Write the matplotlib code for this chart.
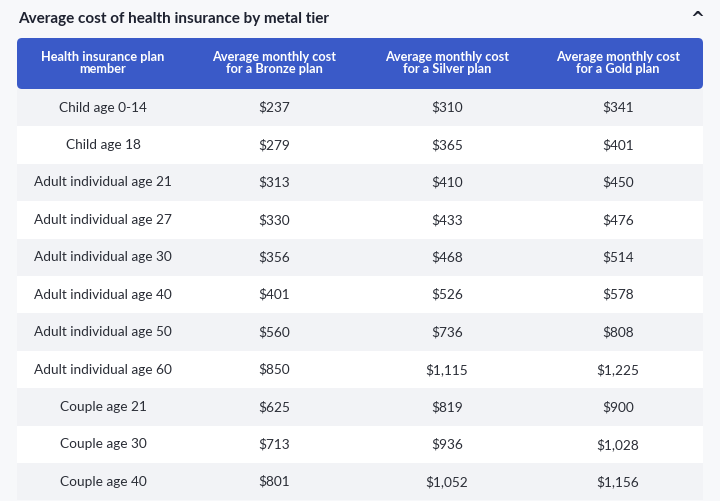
import matplotlib.pyplot as plt
from matplotlib.patches import Rectangle, FancyBboxPatch

title = "Average cost of health insurance by metal tier"
headers = ["Health insurance plan\nmember", "Average monthly cost\nfor a Bronze plan",
           "Average monthly cost\nfor a Silver plan", "Average monthly cost\nfor a Gold plan"]
members = ["Child age 0-14", "Child age 18", "Adult individual age 21", "Adult individual age 27",
           "Adult individual age 30", "Adult individual age 40", "Adult individual age 50",
           "Adult individual age 60", "Couple age 21", "Couple age 30", "Couple age 40"]
bronze = ["$237", "$279", "$313", "$330", "$356", "$401", "$560", "$850", "$625", "$713", "$801"]
silver = ["$310", "$365", "$410", "$433", "$468", "$526", "$736", "$1,115", "$819", "$936", "$1,052"]
gold = ["$341", "$401", "$450", "$476", "$514", "$578", "$808", "$1,225", "$900", "$1,028", "$1,156"]

fig = plt.figure(figsize=(7.2, 5.01), dpi=100)
ax = fig.add_axes([0, 0, 1, 1])
ax.set_xlim(0, 720)
ax.set_ylim(501, 0)
ax.axis("off")
fig.patch.set_facecolor("#f7f8fa")

ax.text(18, 19, title, fontsize=11, fontweight="bold", color="#1e2230", va="center", family="Lato")
ax.text(697, 19, "^", fontsize=12, fontweight="bold", color="#1e2230", va="center", ha="center")

left, right = 17, 703
cols = [103, 274, 447, 618]
ax.add_patch(FancyBboxPatch((left, 38), right - left, 51, boxstyle="round,pad=0,rounding_size=5",
                            fc="#3a5ac8", ec="none"))
for cx, h in zip(cols, headers):
    ax.text(cx, 63, h, color="white", fontsize=9.2, fontweight="bold", ha="center", va="center",
            linespacing=0.95, family="Lato")

top, rh = 89, 37.4
for i, m in enumerate(members):
    y0 = top + i * rh
    ax.add_patch(Rectangle((left, y0), right - left, rh, fc="#f2f3f6" if i % 2 == 0 else "white", ec="none"))
    for cx, v in zip(cols, [m, bronze[i], silver[i], gold[i]]):
        ax.text(cx, y0 + rh / 2, v, fontsize=9.8, color="#2a2d36", ha="center", va="center", family="Lato")

fig.savefig("out.png", dpi=100)
plt.close()
